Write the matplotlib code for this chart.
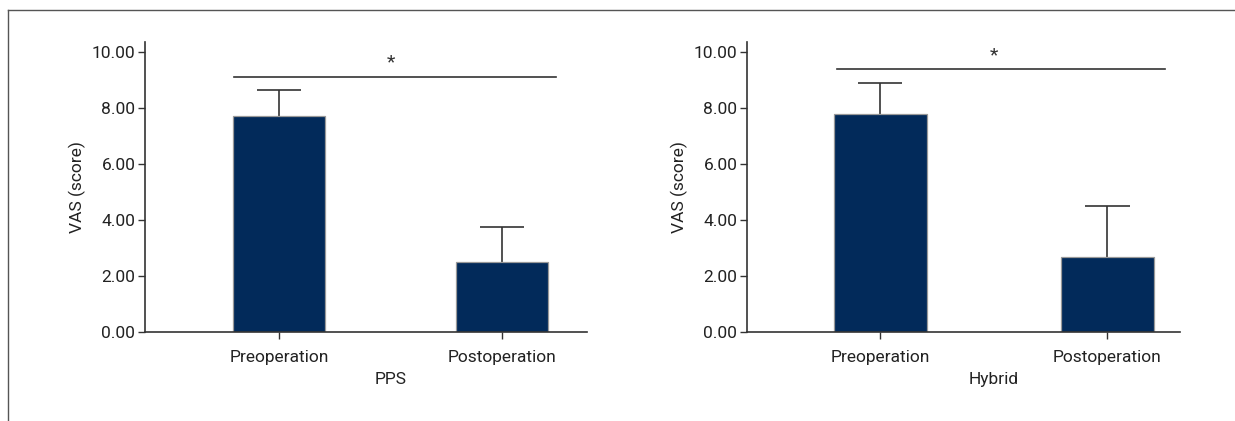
import numpy as np
import matplotlib
matplotlib.use("Agg")
from matplotlib import pyplot as plt

plt.rcParams['font.family'] = ['Roboto', 'DejaVu Sans']

groups = ["Preoperation", "Postoperation"]
pps_mean = [7.72, 2.50]
pps_err = [0.93, 1.26]
hyb_mean = [7.80, 2.68]
hyb_err = [1.08, 1.82]
panel_names = ["PPS", "Hybrid"]
sig_y = [9.1, 9.38]

bar_color = "#022a5a"
ax_color = "#333333"
fs = 12.5

fig = plt.figure(figsize=(12.35, 4.21), dpi=100)
# outer frame (left + top border)
fig.add_artist(plt.Line2D([8/1235, 8/1235], [0, 1 - 10/421], color="#555555", lw=1))
fig.add_artist(plt.Line2D([8/1235, 1], [1 - 10/421, 1 - 10/421], color="#555555", lw=1))

specs = [
    (145, 587, (-0.60, 1.38), pps_mean, pps_err, (-0.20, 1.24)),
    (747, 1180, (-0.586, 1.32), hyb_mean, hyb_err, (-0.19, 1.255)),
]
for i, (x0, x1, xl, mean, err, sig) in enumerate(specs):
    ax = fig.add_axes([x0/1235, 1 - 332/421, (x1 - x0)/1235, 290/421])
    x = np.arange(len(groups))
    top = np.array(mean) + np.array(err)
    ax.vlines(x, mean, top, color=ax_color, lw=1.2, zorder=1)
    ax.hlines(top, x - 0.098, x + 0.098, color=ax_color, lw=1.2, zorder=1)
    ax.bar(x, mean, width=0.41, color=bar_color, edgecolor="#999999", linewidth=0.9, zorder=2)
    ax.set_xlim(*xl)
    ax.set_ylim(0, 10.36)
    ax.set_yticks(np.arange(0, 10.01, 2))
    ax.set_yticklabels(["%.2f" % v for v in np.arange(0, 10.01, 2)])
    ax.set_xticks(x)
    ax.set_xticklabels(groups)
    ax.spines["top"].set_visible(False)
    ax.spines["right"].set_visible(False)
    for s in ("left", "bottom"):
        ax.spines[s].set_color(ax_color)
        ax.spines[s].set_linewidth(1.2)
    ax.tick_params(axis="both", colors=ax_color, labelcolor="#222222", labelsize=fs, length=5, width=1)
    ax.tick_params(axis="x", pad=8)
    ax.tick_params(axis="y", pad=2)
    ax.set_ylabel("VAS (score)", fontsize=fs, color="#222222", labelpad=4)
    xl_mid = (x.mean() - xl[0]) / (xl[1] - xl[0])
    ax.set_xlabel(panel_names[i], fontsize=fs, color="#222222", labelpad=5, x=xl_mid)
    ax.plot(sig, [sig_y[i], sig_y[i]], color=ax_color, lw=1.2, clip_on=False)
    ax.text(x.mean(), sig_y[i] + 0.2, "*", ha="center", va="bottom", fontsize=14, color="#333333")

fig.savefig("out.png", dpi=100)
